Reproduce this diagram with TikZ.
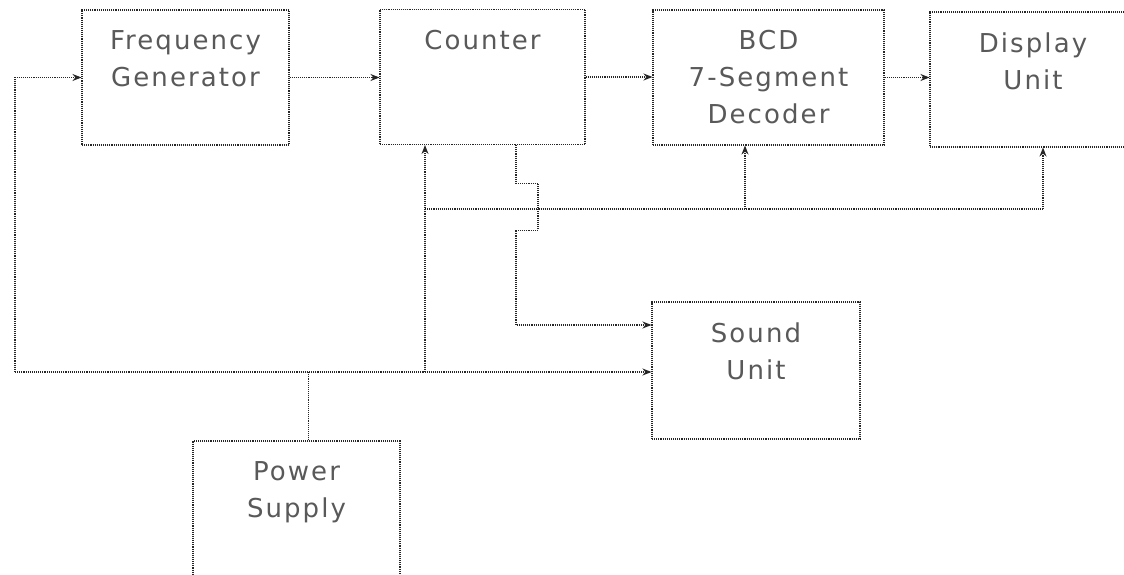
\documentclass[tikz,border=0pt]{standalone}
\usepackage{fontspec}
\newfontfamily\blockfont[LetterSpace=8]{DejaVu Sans}
\usetikzlibrary{arrows.meta}
\tikzset{
  block/.style={draw=black!85, densely dotted, line width=1.1pt, minimum width=#1,
                minimum height=135pt, inner sep=0pt},
  blocktext/.style={anchor=north, yshift=-21pt, inner sep=0pt, align=center,
                    text=black!65, font=\blockfont\fontsize{26}{37}\selectfont},
  wire/.style={draw=black!85, densely dotted, line width=1.1pt},
  feed/.style={wire, -{Stealth[length=9pt,width=7pt]}}
}
\begin{document}
\begin{tikzpicture}[x=1pt, y=-1pt]
        \useasboundingbox (0,0) rectangle (1124,575);
        \node[block=207pt, label={[blocktext]north:Frequency\\Generator}] (fgen) at (185.5,77.5) {};
        \node[block=205pt, label={[blocktext]north:Counter}] (cnt) at (482.5,77) {};
        \node[block=231pt, label={[blocktext]north:BCD\\7-Segment\\Decoder}] (bcd) at (768.5,77.5) {};
        \node[block=206pt, label={[blocktext]north:Display\\Unit}] (disp) at (1033,79.5) {};
        \node[block=208pt, minimum height=137pt, label={[blocktext]north:Sound\\Unit}] (snd) at (756,370.5) {};
        \node[block=207pt, minimum height=140pt, label={[blocktext]north:Power\\Supply}] (pwr) at (296.5,511) {};
        \coordinate (busL) at (15,372);
        \coordinate (tapC) at (425,372);
        \coordinate (ctlL) at (425,209);
        \coordinate (tapB) at (745,209);
        \coordinate (tapD) at (1043,209);
        \draw[feed] (busL) |- (fgen.west);
        \draw[feed] (fgen.east) -- (fgen.east -| cnt.west);
        \draw[feed] (cnt.east) -- (cnt.east -| bcd.west);
        \draw[feed] (bcd.east) -- (bcd.east -| disp.west);
        \draw[feed] (busL) -- (busL -| snd.west);
        \draw[wire] ([xshift=12pt]pwr.north) -- ([xshift=12pt]pwr.north |- busL);
        \draw[feed] (tapC) -- (tapC |- cnt.south);
        \draw[wire] (ctlL) -- (tapD);
        \draw[feed] (tapD) -- (tapD |- disp.south);
        \draw[feed] (tapB) -- (tapB |- bcd.south);
        \draw[feed] ([xshift=33.5pt]cnt.south) -- ++(0,38) -- ++(22,0) -- ++(0,47)
                    -- ++(-22,0) |- ([yshift=45.5pt]snd.west);
    \end{tikzpicture}
\end{document}
